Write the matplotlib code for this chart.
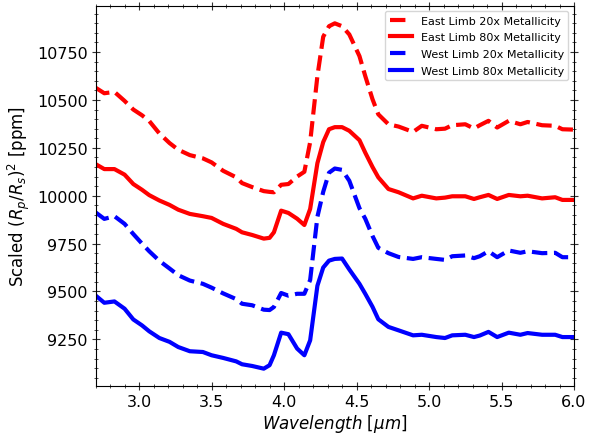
import matplotlib

matplotlib.use("Agg")
import matplotlib.pyplot as plt
from matplotlib.ticker import AutoMinorLocator


# wavelength grid (micron) and scaled transit depth (ppm)
wavelength = [
    2.70, 2.76, 2.83, 2.90, 2.96, 3.02, 3.07, 3.14, 3.21, 3.27,
    3.35, 3.44, 3.50, 3.58, 3.67, 3.71, 3.78, 3.86, 3.90, 3.93,
    3.98, 4.03, 4.09, 4.14, 4.18, 4.23, 4.27, 4.31, 4.35, 4.40,
    4.45, 4.52, 4.56, 4.61, 4.65, 4.72, 4.79, 4.89, 4.95, 5.05,
    5.11, 5.16, 5.25, 5.31, 5.35, 5.41, 5.47, 5.55, 5.63, 5.68,
    5.78, 5.87, 5.92, 6.00,
]

east_20x = [
    10564, 10535, 10542, 10495, 10450, 10420, 10390, 10325, 10275, 10240,
    10212, 10195, 10174, 10130, 10096, 10066, 10045, 10024, 10020, 10018,
    10057, 10061, 10100, 10125, 10280, 10625, 10830, 10885, 10900, 10885,
    10842, 10729, 10625, 10504, 10425, 10373, 10361, 10333, 10365, 10347,
    10350, 10368, 10373, 10351, 10368, 10391, 10356, 10391, 10373, 10385,
    10368, 10365, 10347, 10345,
]

east_80x = [
    10165, 10139, 10139, 10110, 10061, 10031, 10003, 9975, 9952, 9927,
    9905, 9893, 9884, 9853, 9827, 9809, 9795, 9776, 9780, 9809,
    9922, 9910, 9880, 9847, 9931, 10170, 10280, 10347, 10358, 10358,
    10339, 10290, 10225, 10150, 10096, 10035, 10018, 9986, 10000, 9986,
    9990, 9997, 9997, 9983, 9992, 10004, 9983, 10004, 9997, 10000,
    9986, 9992, 9978, 9978,
]

west_20x = [
    9913, 9879, 9893, 9853, 9800, 9750, 9710, 9660, 9620, 9585,
    9557, 9540, 9520, 9490, 9460, 9436, 9428, 9405, 9403, 9419,
    9492, 9478, 9488, 9488, 9560, 9890, 10020, 10120, 10142, 10135,
    10078, 9935, 9880, 9790, 9728, 9700, 9680, 9670, 9679, 9670,
    9665, 9684, 9688, 9674, 9684, 9710, 9679, 9714, 9702, 9710,
    9700, 9702, 9679, 9679,
]

west_80x = [
    9479, 9441, 9448, 9410, 9354, 9323, 9292, 9257, 9237, 9210,
    9188, 9184, 9167, 9153, 9135, 9120, 9111, 9097, 9115, 9167,
    9285, 9277, 9202, 9167, 9245, 9530, 9625, 9661, 9670, 9672,
    9615, 9540, 9488, 9420, 9355, 9315, 9297, 9271, 9274, 9262,
    9257, 9271, 9274, 9262, 9270, 9289, 9262, 9285, 9274, 9283,
    9274, 9274, 9262, 9262,
]


def main() -> None:
    fig = plt.figure(figsize=(6.02, 4.39), dpi=100)
    ax = fig.add_axes([0.1588, 0.1178, 0.7947, 0.8669])

    ax.plot(wavelength, east_20x, color="red", ls="--", lw=3, label="East Limb 20x Metallicity")
    ax.plot(wavelength, east_80x, color="red", ls="-", lw=3, label="East Limb 80x Metallicity")
    ax.plot(wavelength, west_20x, color="blue", ls="--", lw=3, label="West Limb 20x Metallicity")
    ax.plot(wavelength, west_80x, color="blue", ls="-", lw=3, label="West Limb 80x Metallicity")

    ax.set_xlim(2.7, 6.0)
    ax.set_ylim(9005, 10992)
    ax.set_yticks([9250, 9500, 9750, 10000, 10250, 10500, 10750])
    ax.xaxis.set_minor_locator(AutoMinorLocator(5))
    ax.yaxis.set_minor_locator(AutoMinorLocator(5))
    ax.tick_params(which="both", direction="inout", top=True, right=True, labelsize=11.5,
                   color="#333333", pad=2.5)
    ax.tick_params(which="major", length=6)
    ax.tick_params(which="minor", length=3.2)

    ax.set_xlabel(r"$Wavelength$ [$\mu m$]", fontsize=12, labelpad=2)
    ax.set_ylabel(r"Scaled $(R_p/R_s)^2$ [ppm]", fontsize=12)
    ax.legend(loc="upper right", fontsize=8, labelspacing=0.6)

    fig.savefig("out.png", dpi=100)
    plt.close(fig)


if __name__ == "__main__":
    main()
